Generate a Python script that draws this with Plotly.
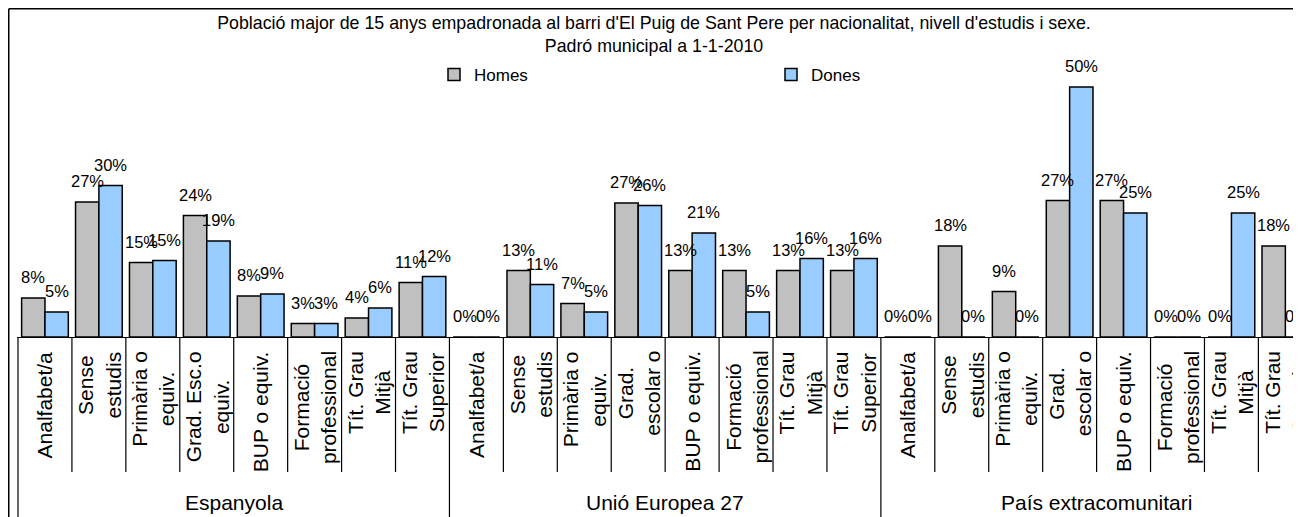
import math
import plotly.graph_objects as go

# ---------------- data ----------------
title_line1 = "Població major de 15 anys empadronada al barri d'El Puig de Sant Pere per nacionalitat, nivell d'estudis i sexe."
title_line2 = "Padró municipal a 1-1-2010"

groups = ["Espanyola", "Unió Europea 27", "País extracomunitari"]

levels_espanyola = ["Analfabet/a", "Sense|estudis", "Primària o|equiv.", "Grad. Esc.o|equiv.",
                    "BUP o equiv.", "Formació|professional", "Tít. Grau|Mitjà", "Tít. Grau|Superior"]
levels_ue = ["Analfabet/a", "Sense|estudis", "Primària o|equiv.", "Grad.|escolar o",
             "BUP o equiv.", "Formació|professional", "Tít. Grau|Mitjà", "Tít. Grau|Superior"]
levels_extra = ["Analfabet/a", "Sense|estudis", "Primària o|equiv.", "Grad.|escolar o",
                "BUP o equiv.", "Formació|professional", "Tít. Grau|Mitjà", "Tít. Grau|Superior"]

series_names = ["Homes", "Dones"]

# percentages
homes_espanyola = [7.8, 27.0, 14.9, 24.3, 8.2, 2.7, 3.8, 10.9]
dones_espanyola = [5.0, 30.3, 15.3, 19.2, 8.6, 2.7, 5.8, 12.1]
homes_ue = [0.0, 13.3, 6.7, 26.8, 13.3, 13.3, 13.3, 13.3]
dones_ue = [0.0, 10.5, 5.0, 26.3, 20.8, 5.0, 15.7, 15.7]
homes_extra = [0.0, 18.2, 9.1, 27.3, 27.3, 0.0, 0.0, 18.2]
dones_extra = [0.0, 0.0, 0.0, 50.0, 24.8, 0.0, 24.8, 0.0]

# ---------------- styling / geometry ----------------
FONT = "Liberation Sans, Arial, sans-serif"
C_HOMES = "#C0C0C0"
C_DONES = "#99CCFF"
W, H = 1293, 509
CAT_W = 53.93          # pixel width of one category
ML, MT = 9, 29
PH = 300               # plot height in px
MB = H - MT - PH
PW = W - ML
BARGAP = 0.134

level_sets = [levels_espanyola, levels_ue, levels_extra]
levels = [lv for s in level_sets for lv in s]
homes = homes_espanyola + homes_ue + homes_extra
dones = dones_espanyola + dones_ue + dones_extra
pos = list(range(len(levels)))

x0 = -0.5 - 1.0 / CAT_W
x1 = x0 + PW / CAT_W


def pct(v):
    return f"{math.floor(v + 0.5)}%"


def px_to_paper_y(px_below_top):
    return 1 - px_below_top / PH


fig = go.Figure()
fig.add_trace(go.Bar(x=pos, y=homes, name=series_names[0], legend="legend", showlegend=True,
                     marker=dict(color=C_HOMES, line=dict(color="black", width=1.5))))
fig.add_trace(go.Bar(x=pos, y=dones, name=series_names[1], legend="legend2", showlegend=True,
                     marker=dict(color=C_DONES, line=dict(color="black", width=1.5))))

annotations = []
half = (1 - BARGAP) / 4
for i, (h, d) in enumerate(zip(homes, dones)):
    for xv, v in ((i - half, h), (i + half, d)):
        annotations.append(dict(x=xv, y=v, xref="x", yref="y", text=pct(v), showarrow=False,
                                yanchor="bottom", xanchor="center", yshift=10,
                                font=dict(family=FONT, size=16.5, color="black")))

# category labels (rotated, wrapped)
for i, lv in enumerate(levels):
    annotations.append(dict(x=i, y=-12 / PH, xref="x", yref="paper", text=lv.replace("|", "<br>"),
                            showarrow=False, textangle=-90, yanchor="top", xanchor="center",
                            align="center", font=dict(family=FONT, size=21, color="black")))

# group labels
start = 0
group_bounds = [0]
for g, s in zip(groups, level_sets):
    center = start + (len(s) - 1) / 2
    annotations.append(dict(x=center, y=-(165.3) / PH, xref="x", yref="paper", text=g,
                            showarrow=False, yanchor="middle", xanchor="center",
                            font=dict(family=FONT, size=21, color="black")))
    start += len(s)
    group_bounds.append(start)

shapes = []
for k in range(len(levels) + 1):
    xb = k - 0.5
    bottom = -0.62 if k in group_bounds else -135 / PH
    shapes.append(dict(type="line", xref="x", yref="paper", x0=xb, x1=xb, y0=0, y1=bottom,
                       line=dict(color="black", width=1.2)))

# outer chart frame (left and top edges visible)
fx = (0.75 - ML) / PW
fy = 1 + (MT - 0.75) / PH
shapes.append(dict(type="line", xref="paper", yref="paper", x0=fx, x1=fx, y0=fy, y1=-MB / PH - 0.1,
                   line=dict(color="black", width=1.5)))
shapes.append(dict(type="line", xref="paper", yref="paper", x0=fx, x1=1.1, y0=fy, y1=fy,
                   line=dict(color="black", width=1.5)))

legend_y = px_to_paper_y(67 - MT)
fig.update_layout(
    width=W, height=H,
    margin=dict(l=ML, r=0, t=MT, b=MB, autoexpand=False),
    paper_bgcolor="white", plot_bgcolor="white",
    showlegend=True,
    barmode="group", bargap=BARGAP, bargroupgap=0,
    title=dict(text=title_line1 + "<br>" + title_line2, x=646 / W, xref="container", xanchor="center",
               y=1 - 21 / H, yref="container", yanchor="top",
               font=dict(family=FONT, size=17.8, color="black")),
    xaxis=dict(range=[x0, x1], showticklabels=False, showgrid=False, zeroline=False,
               showline=True, linecolor="black", linewidth=1.3, ticks=""),
    yaxis=dict(range=[0, 60], visible=False, showgrid=False, zeroline=False),
    legend=dict(x=(426 - ML) / PW, y=legend_y, xanchor="left", yanchor="middle",
                bgcolor="rgba(0,0,0,0)", font=dict(family=FONT, size=17, color="black")),
    legend2=dict(x=(763 - ML) / PW, y=legend_y, xanchor="left", yanchor="middle",
                 bgcolor="rgba(0,0,0,0)", font=dict(family=FONT, size=17, color="black")),
    annotations=annotations,
    shapes=shapes,
    font=dict(family=FONT, color="black"),
)

fig.write_html("out.html")
